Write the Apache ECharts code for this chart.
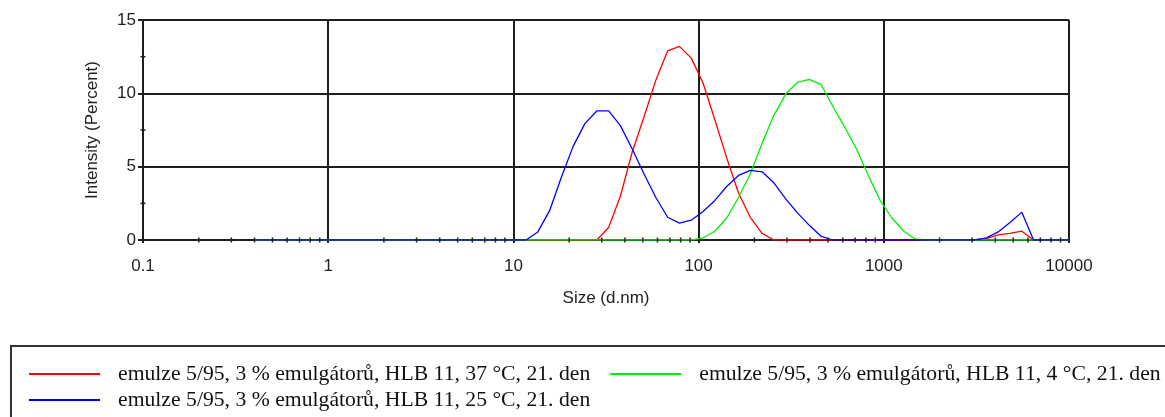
<!DOCTYPE html>
<html><head><meta charset="utf-8">
<script src="https://cdn.jsdelivr.net/npm/echarts@6/dist/echarts.min.js"></script>
<style>html,body{margin:0;padding:0;background:#fff}#c{width:1165px;height:417px}</style>
</head><body><div id="c"></div>
<script>
// Size bins (d.nm)
const sizes = [0.4,0.4632,0.5365,0.6213,0.7195,0.8332,0.9649,1.117,1.294,1.499,
  1.736,2.01,2.328,2.696,3.122,3.615,4.187,4.849,5.615,6.503,
  7.531,8.721,10.1,11.7,13.54,15.69,18.17,21.04,24.36,28.21,
  32.67,37.84,43.82,50.75,58.77,68.06,78.82,91.28,105.7,122.4,
  141.8,164.2,190.1,220.2,255,295.3,342,396.1,458.7,531.2,
  615.1,712.4,825,955.4,1106,1281,1484,1718,1990,2305,
  2669,3091,3580,4145,4801,5560,6439,7456,8635,10000];
// Intensity (%) per series
const red37 = [0,0,0,0,0,0,0,0,0,0,
  0,0,0,0,0,0,0,0,0,0,
  0,0,0,0,0,0,0,0,0,0,
  0.85,3.0,6.0,8.4,10.9,12.9,13.2,12.4,10.7,8.2,
  5.6,3.2,1.55,0.45,0,0,0,0,0,0,
  0,0,0,0,0,0,0,0,0,0,
  0,0,0.1,0.35,0.45,0.6,0,0,0,0];
const blue25 = [0,0,0,0,0,0,0,0,0,0,
  0,0,0,0,0,0,0,0,0,0,
  0,0,0,0,0.55,2.0,4.3,6.4,7.95,8.8,
  8.8,7.8,6.2,4.5,2.9,1.55,1.15,1.35,1.95,2.7,
  3.65,4.4,4.75,4.65,3.9,2.8,1.85,1.0,0.25,0,
  0,0,0,0,0,0,0,0,0,0,
  0,0,0.15,0.55,1.2,1.9,0,0,0,0];
const green4 = [0,0,0,0,0,0,0,0,0,0,
  0,0,0,0,0,0,0,0,0,0,
  0,0,0,0,0,0,0,0,0,0,
  0,0,0,0,0,0,0,0,0.15,0.6,
  1.5,2.9,4.5,6.6,8.5,9.95,10.75,10.95,10.6,9.1,
  7.7,6.2,4.4,2.7,1.5,0.6,0.05,0,0,0,
  0,0,0,0,0,0,0,0,0,0];
const seriesNames = [
  'emulze 5/95, 3 % emulgátorů, HLB 11, 37 °C, 21. den',
  'emulze 5/95, 3 % emulgátorů, HLB 11, 4 °C, 21. den',
  'emulze 5/95, 3 % emulgátorů, HLB 11, 25 °C, 21. den'
];
const xMinorTicks = [0.2,0.3,0.4,0.5,0.6,0.7,0.8,0.9,
  2,3,4,5,6,7,8,9, 20,30,40,50,60,70,80,90,
  200,300,400,500,600,700,800,900, 2000,3000,4000,5000,6000,7000,8000,9000];
const yMinorTicks = [2.5,7.5,12.5];

const pairs = arr => sizes.map((s, i) => [s, arr[i]]);
const gridColor = '#1e1e1e';
const axisFont = {fontFamily: 'Liberation Sans', fontSize: 17, color: '#222'};

const chart = echarts.init(document.getElementById('c'), null, {renderer: 'canvas'});
chart.setOption({
  animation: false,
  backgroundColor: '#fff',
  grid: {left: 143, top: 20, width: 926, height: 220, containLabel: false},
  xAxis: {
    type: 'log', logBase: 10, min: 0.1, max: 10000,
    name: 'Size (d.nm)', nameLocation: 'middle', nameGap: 50,
    nameTextStyle: Object.assign({}, axisFont),
    axisLine: {lineStyle: {color: gridColor, width: 2}},
    axisTick: {show: true, length: 3, lineStyle: {color: gridColor, width: 2}},
    axisLabel: Object.assign({margin: 18, formatter: v => String(v)}, axisFont),
    splitLine: {show: true, lineStyle: {color: gridColor, width: 2}},
    minorTick: {show: false}
  },
  yAxis: {
    type: 'value', min: 0, max: 15, interval: 5,
    name: 'Intensity (Percent)', nameLocation: 'middle', nameGap: 42,
    nameTextStyle: Object.assign({}, axisFont),
    axisLine: {show: true, lineStyle: {color: gridColor, width: 2}},
    axisTick: {show: true, length: 5, lineStyle: {color: gridColor, width: 2}},
    axisLabel: Object.assign({margin: 7}, axisFont),
    splitLine: {show: true, lineStyle: {color: gridColor, width: 2}}
  },
  legend: {
    data: seriesNames,
    left: 29, top: 363, width: 1300, padding: 0,
    orient: 'horizontal',
    icon: 'rect', itemWidth: 71, itemHeight: 2, itemGap: 4,
    textStyle: {fontFamily: 'Liberation Serif', fontSize: 21.7, color: '#111',
      lineHeight: 20, padding: [0, 16, 0, 13]}
  },
  graphic: [{
    type: 'rect', silent: true,
    shape: {x: 11, y: 346, width: 1170, height: 90},
    style: {fill: 'none', stroke: '#333', lineWidth: 2}
  }],
  series: [
    {name: seriesNames[0], type: 'line', data: pairs(red37), showSymbol: false, symbol: 'none',
      lineStyle: {color: '#ff0000', width: 1.3}, itemStyle: {color: '#ff0000'}, z: 2},
    {name: seriesNames[1], type: 'line', data: pairs(green4), showSymbol: false, symbol: 'none',
      lineStyle: {color: '#00f000', width: 1.3}, itemStyle: {color: '#00f000'}, z: 3},
    {name: seriesNames[2], type: 'line', data: pairs(blue25), showSymbol: false, symbol: 'none',
      lineStyle: {color: '#0000ff', width: 1.3}, itemStyle: {color: '#0000ff'}, z: 4},
    {type: 'custom', silent: true, z: 6,
      data: xMinorTicks.map(v => [v, 0]),
      renderItem: (params, api) => {
        const p = api.coord([api.value(0), api.value(1)]);
        return {type: 'line', shape: {x1: p[0], y1: p[1] - 2.5, x2: p[0], y2: p[1] + 2.5},
          style: {stroke: gridColor, lineWidth: 1.5}};
      }},
    {type: 'custom', silent: true, z: 6,
      data: yMinorTicks.map(v => [0.1, v]),
      renderItem: (params, api) => {
        const p = api.coord([api.value(0), api.value(1)]);
        return {type: 'line', shape: {x1: p[0] - 2.5, y1: p[1], x2: p[0] + 2.5, y2: p[1]},
          style: {stroke: gridColor, lineWidth: 1.5}};
      }}
  ]
});
</script></body></html>
